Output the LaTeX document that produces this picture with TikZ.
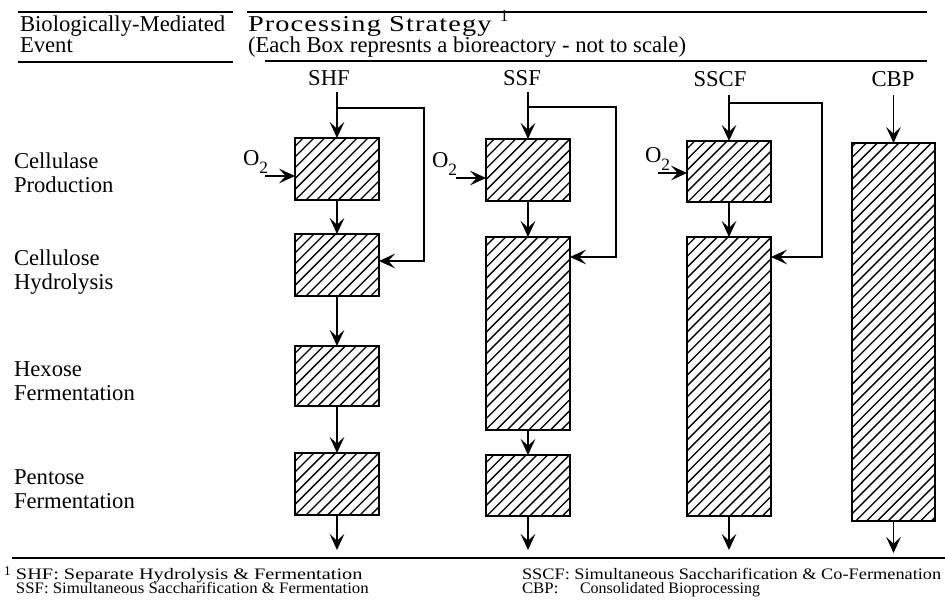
\documentclass[tikz,border=0pt]{standalone}
\usepackage{fontspec}
\setmainfont{Liberation Serif}
\usetikzlibrary{arrows.meta}
\begin{document}
\begin{tikzpicture}[x=0.75pt,y=-0.75pt,
  every node/.style={inner sep=0pt, outer sep=0pt},
  txt/.style={font=\fontsize{17}{18}\selectfont, anchor=base west},
  colhead/.style={font=\fontsize{17}{18}\selectfont, anchor=base},
  supnum/.style={font=\fontsize{12.5}{13}\selectfont, anchor=base west},
  note/.style={font=\fontsize{12}{12}\selectfont, anchor=base west},
  notesup/.style={font=\fontsize{10}{10}\selectfont, anchor=base west},
  rule/.style={line width=1.5pt},
  flow/.style={line width=1.1pt, -{Stealth[length=12pt,width=11pt,inset=5pt]}},
  reactor/.style 2 args={draw, line width=1.7pt,
    minimum width=#1*0.75pt, minimum height=#2*0.75pt,
    path picture={\foreach \k in {-26,...,26}{
      \draw[line width=1pt] ([xshift=\k*8.1pt]path picture bounding box.center)
        ++(-300pt,-300pt) -- ++(600pt,600pt);}}},
]
\useasboundingbox (0,0) rectangle (945,602);

% header rules and titles
\draw[rule] (18,12) -- (233,12);
\draw[rule] (18,62) -- (233,62);
\draw[rule] (247,12) -- (927,12);
\draw[rule] (265,61) -- (927,61);
\node[txt] (hbio) at (20,32) {Biologically-Mediated};
\node[txt] (hevent) at (20,53) {Event};
\node[txt] (hproc) at (248,32) {\addfontfeature{FakeStretch=1.25,LetterSpace=5}Processing Strategy};
\node[supnum] (hone) at (500,22) {1};
\node[txt] (heach) at (248,53) {(Each Box represnts a bioreactory - not to scale)};

% row labels
\node[txt] (r1a) at (14,169) {Cellulase};
\node[txt] (r1b) at (14,193) {Production};
\node[txt] (r2a) at (14,265) {Cellulose};
\node[txt] (r2b) at (14,289) {Hydrolysis};
\node[txt] (r3a) at (14,376) {Hexose};
\node[txt] (r3b) at (14,400) {Fermentation};
\node[txt] (r4a) at (14,484) {Pentose};
\node[txt] (r4b) at (14,508) {Fermentation};

% strategy names
\node[colhead] (lshf) at (329,86) {SHF};
\node[colhead] (lssf) at (522,86) {SSF};
\node[colhead] (lsscf) at (720,87) {SSCF};
\node[colhead] (lcbp) at (893,87) {CBP};

% reactors
\node[reactor={84}{62}] (a1) at (337,169) {};
\node[reactor={84}{62}] (a2) at (337,265) {};
\node[reactor={84}{60}] (a3) at (337,376) {};
\node[reactor={84}{62}] (a4) at (337,484) {};
\node[reactor={84}{62}] (b1) at (528,170) {};
\node[reactor={84}{193}] (b2) at (528,333.5) {};
\node[reactor={84}{61}] (b3) at (528,485.5) {};
\node[reactor={84}{61}] (c1) at (729,171.5) {};
\node[reactor={84}{279}] (c2) at (729,376.5) {};
\node[reactor={83}{378}] (d1) at (893.5,332) {};

% feed inlets, bypass corners, outlets
\coordinate (sa) at (337,92);  \coordinate (ta) at (337,108);
\coordinate (ua) at (424,108); \coordinate (qa) at (424,261);
\coordinate (sb) at (528,92);  \coordinate (tb) at (528,107);
\coordinate (ub) at (616,107); \coordinate (qb) at (616,257);
\coordinate (sc) at (729,95);  \coordinate (tc) at (729,103);
\coordinate (uc) at (822,103); \coordinate (qc) at (822,257);
\coordinate (sd) at (893.5,95);
\coordinate (ea) at (337,550);
\coordinate (eb) at (528,550);
\coordinate (ec) at (729,550);
\coordinate (ed) at (893.5,553);

% oxygen inlets
\node[txt] (oa) at (243,166) {O\raisebox{-0.32em}{\fontsize{13}{13}\selectfont 2}};
\node[txt] (ob) at (432,168) {O\raisebox{-0.32em}{\fontsize{13}{13}\selectfont 2}};
\node[txt] (oc) at (645,163) {O\raisebox{-0.32em}{\fontsize{13}{13}\selectfont 2}};
\coordinate (xa) at (265,176);
\coordinate (xb) at (456,178);
\coordinate (xc) at (658,173);
\draw[flow] (xa) -- (xa -| a1.west);
\draw[flow] (xb) -- (xb -| b1.west);
\draw[flow] (xc) -- (xc -| c1.west);

% SHF train
\draw[flow] (sa) -- (a1);
\draw[flow] (a1) -- (a2);
\draw[flow] (a2) -- (a3);
\draw[flow] (a3) -- (a4);
\draw[flow] (a4) -- (ea);
\draw[flow] (ta) -- (ua) -- (qa) -- (qa -| a2.east);

% SSF train
\draw[flow] (sb) -- (b1);
\draw[flow] (b1) -- (b2);
\draw[flow] (b2) -- (b3);
\draw[flow] (b3) -- (eb);
\draw[flow] (tb) -- (ub) -- (qb) -- (qb -| b2.east);

% SSCF train
\draw[flow] (sc) -- (c1);
\draw[flow] (c1) -- (c2);
\draw[flow] (c2) -- (ec);
\draw[flow] (tc) -- (uc) -- (qc) -- (qc -| c2.east);

% CBP
\draw[flow] (sd) -- (d1);
\draw[flow] (d1) -- (ed);

% footnote
\draw[rule] (12,558) -- (945,558);
\node[notesup] (fone) at (4,575) {1};
\node[note] (f1) at (16,579) {\addfontfeature{FakeStretch=1.27}SHF: Separate Hydrolysis \& Fermentation};
\node[note] (f2) at (16,593) {\addfontfeature{FakeStretch=1.05}SSF: Simultaneous Saccharification \& Fermentation};
\node[note] (f3) at (522,579) {\addfontfeature{FakeStretch=1.145}SSCF: Simultaneous Saccharification \& Co-Fermenation};
\node[note] (f4) at (522,593) {\addfontfeature{FakeStretch=1.05}CBP:};
\node[note] (f5) at (580,593) {Consolidated Bioprocessing};
\end{tikzpicture}
\end{document}
